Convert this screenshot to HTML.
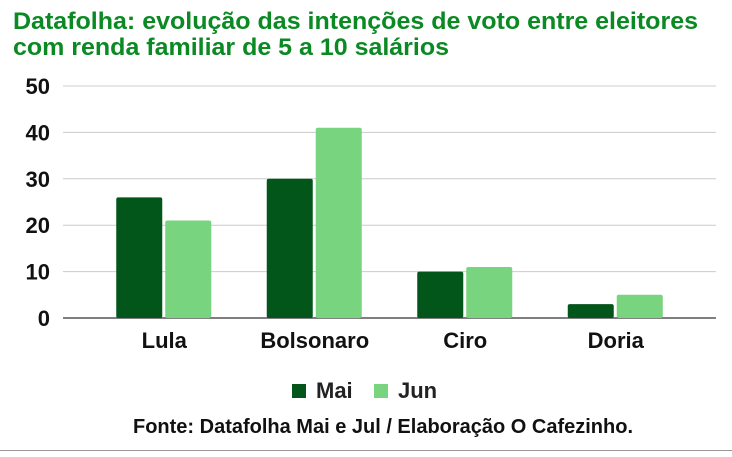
<!DOCTYPE html>
<html><head><meta charset="utf-8">
<style>
body{margin:0;background:#fff;width:732px;height:452px;overflow:hidden;font-family:"Liberation Sans",sans-serif;}
svg text{font-family:"Liberation Sans",sans-serif;}
</style></head>
<body>
<svg id="chart" width="732" height="452" xmlns="http://www.w3.org/2000/svg">
<text x="13" y="29" font-size="24" font-weight="bold" fill="#0b8a24" textLength="685" lengthAdjust="spacingAndGlyphs">Datafolha: evolução das intenções de voto entre eleitores</text>
<text x="13" y="55" font-size="24" font-weight="bold" fill="#0b8a24" textLength="436" lengthAdjust="spacingAndGlyphs">com renda familiar de 5 a 10 salários</text>
<g id="grid"></g><g id="bars"></g><g id="labels"></g>
<g>
<rect x="292" y="384" width="14" height="14" fill="#02561a"/>
<text x="316" y="398" font-size="22" font-weight="bold" fill="#222">Mai</text>
<rect x="374" y="384" width="14" height="14" fill="#78d47f"/>
<text x="398" y="398" font-size="22" font-weight="bold" fill="#222">Jun</text>
</g>
<text x="383" y="433" text-anchor="middle" font-size="20" font-weight="bold" fill="#111" textLength="500" lengthAdjust="spacingAndGlyphs">Fonte: Datafolha Mai e Jul / Elaboração O Cafezinho.</text>
<line x1="0" y1="450.5" x2="732" y2="450.5" stroke="#999"/>
</svg>
<script>
const categories=["Lula","Bolsonaro","Ciro","Doria"];
const maiValues=[26,30,10,3];
const junValues=[21,41,11,5];
const yTicks=[0,10,20,30,40,50];
const NS="http://www.w3.org/2000/svg";
const x0=89,bandW=150.5,y0=318,yMax=50,plotH=232;
function y(v){return y0-v/yMax*plotH;}
function bandX(i){return x0+i*bandW;}
function mk(tag,attrs,parent){const e=document.createElementNS(NS,tag);for(const k in attrs)e.setAttribute(k,attrs[k]);parent.appendChild(e);return e;}
const grid=document.getElementById('grid'),bars=document.getElementById('bars'),labels=document.getElementById('labels');
yTicks.forEach(t=>{
 const l=mk('line',{x1:63,x2:716,y1:y(t),y2:y(t),stroke:t===0?'#555':'#ccc','stroke-width':t===0?1.5:1},grid);
 
 
 const tx=mk('text',{x:50,y:y(t)+8,'text-anchor':'end','font-size':22,'font-weight':'bold',fill:'#111'},labels);
 tx.textContent=t;
 
 
});
categories.forEach((c,i)=>{
 const cx=bandX(i)+bandW/2;
 const b1=mk('rect',{x:cx-48,width:46,y:y(maiValues[i]),height:y0-y(maiValues[i]),fill:'#02561a',rx:2},bars);
 
 
 const b2=mk('rect',{x:cx+1,width:46,y:y(junValues[i]),height:y0-y(junValues[i]),fill:'#78d47f',rx:2},bars);
 
 
 const t=mk('text',{x:cx,y:348,'text-anchor':'middle','font-size':22,'font-weight':'bold',fill:'#111'},labels);
 t.textContent=c;
 
 
});
</script>
</body></html>
